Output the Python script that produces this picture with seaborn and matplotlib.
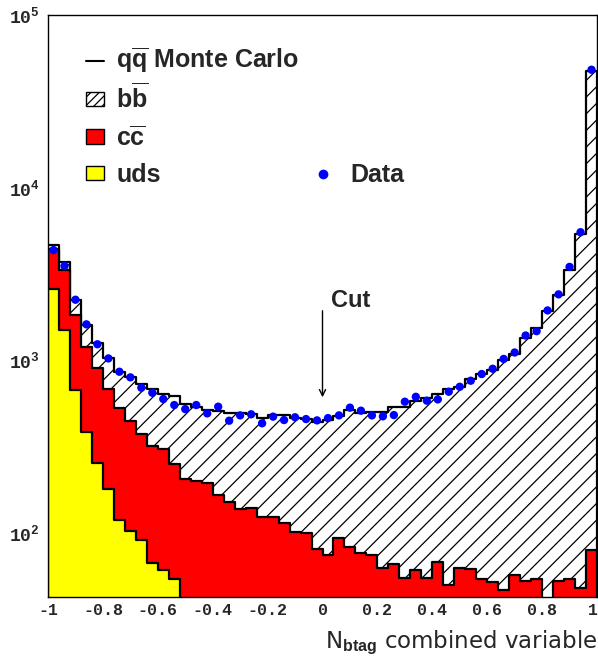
import numpy as np
import pandas as pd
import matplotlib
matplotlib.use("Agg")
import matplotlib.pyplot as plt
import seaborn as sns
from matplotlib.lines import Line2D
from matplotlib.patches import Patch
from matplotlib.ticker import MultipleLocator, LogLocator, NullFormatter
import matplotlib.transforms as mtransforms

# ---------------- data ----------------
x_range = (-1.0, 1.0)
n_bins = 50

uds_counts = [2578, 1497, 673, 386, 254, 179, 119, 103, 91, 67,
              61, 54, 0, 0, 0, 0, 0, 0, 0, 0,
              0, 0, 0, 0, 0, 0, 0, 0, 0, 0,
              0, 0, 0, 0, 0, 0, 0, 0, 0, 0,
              0, 0, 0, 0, 0, 0, 0, 0, 0, 0]

cc_counts = [1822, 1833, 1157, 814, 652, 500, 413, 344, 282, 253,
             244, 197, 205, 201, 194, 166, 152, 137, 139, 123,
             124, 114, 102, 100, 81, 75, 94, 83, 77, 75,
             63, 66, 55, 61, 55, 68, 50, 63, 62, 54,
             52, 47, 57, 53, 54, 38, 53, 54, 48, 80]

bb_counts = [250, 390, 403, 400, 358, 347, 327, 356, 353, 359,
             335, 370, 351, 337, 321, 342, 345, 360, 350, 342,
             361, 368, 359, 355, 360, 376, 382, 432, 416, 429,
             439, 472, 483, 523, 553, 568, 633, 640, 714, 779,
             833, 962, 1037, 1290, 1495, 1881, 2347, 3296, 5347, 47620]

data_counts = [4350, 3516, 2244, 1616, 1239, 1026, 859, 797, 694, 649,
               597, 551, 522, 551, 493, 539, 447, 480, 487, 432,
               472, 451, 468, 457, 449, 463, 480, 532, 511, 480,
               474, 482, 576, 615, 584, 594, 658, 703, 762, 833,
               894, 1019, 1110, 1393, 1476, 1945, 2410, 3477, 5521, 48200]

x_tick_values = [-1, -0.8, -0.6, -0.4, -0.2, 0, 0.2, 0.4, 0.6, 0.8, 1]
x_tick_labels = ['-1', '-0.8', '-0.6', '-0.4', '-0.2', '0', '0.2', '0.4', '0.6', '0.8', '1']
y_tick_values = [1e2, 1e3, 1e4, 1e5]
y_tick_labels = [r'$\mathtt{10^{2}}$', r'$\mathtt{10^{3}}$', r'$\mathtt{10^{4}}$', r'$\mathtt{10^{5}}$']

legend_labels = [r'$\mathrm{q}\overline{\mathrm{q}}$ Monte Carlo',
                 r'$\mathrm{b}\overline{\mathrm{b}}$',
                 r'$\mathrm{c}\overline{\mathrm{c}}$',
                 'uds']
data_label = 'Data'
cut_label = 'Cut'
cut_position = 0.0
x_label = r'N$_{\mathbf{btag}}$ combined variable'

# ---------------- style ----------------
sns.set_style("white")
plt.rcParams['font.family'] = ['Liberation Sans', 'DejaVu Sans']
plt.rcParams['mathtext.fontset'] = 'custom'
plt.rcParams['mathtext.rm'] = 'Liberation Sans:bold'
plt.rcParams['mathtext.bf'] = 'Liberation Sans:bold'
plt.rcParams['mathtext.it'] = 'Liberation Sans:bold:italic'
plt.rcParams['mathtext.tt'] = 'Liberation Mono:bold'
plt.rcParams['hatch.linewidth'] = 0.9

binwidth = (x_range[1] - x_range[0]) / n_bins
centers = x_range[0] + binwidth * (np.arange(n_bins) + 0.5)
uds = np.array(uds_counts, float)
cc = np.array(cc_counts, float)
bb = np.array(bb_counts, float)
df = pd.DataFrame({'x': centers,
                   'uds': uds,
                   'cc_stack': uds + cc,
                   'total': uds + cc + bb,
                   'data': np.array(data_counts, float)})

W, H = 598, 662
fig = plt.figure(figsize=(W / 100, H / 100), dpi=100)
ax = fig.add_axes([48 / W, 1 - 597 / H, (597 - 48) / W, (597 - 15) / H])
ax.set_yscale('log')

common = dict(x='x', binwidth=binwidth, binrange=x_range, element='step', fill=True, alpha=1,
              edgecolor='black', linewidth=1.6, ax=ax)
sns.histplot(data=df, weights='total', facecolor='white', hatch='//', **common)
sns.histplot(data=df, weights='cc_stack', facecolor='#ff0000', **common)
sns.histplot(data=df, weights='uds', facecolor='#ffff00', **common)

sns.scatterplot(data=df, x='x', y='data', color='#0000ff', s=36,
                edgecolor='none', ax=ax, zorder=5, legend=False)

ax.set_xlim(*x_range)
ax.set_ylim(42.6, 1e5)

ax.set_xticks(x_tick_values)
ax.set_xticklabels(x_tick_labels, family='Liberation Mono', weight='bold', fontsize=12)
ax.xaxis.set_minor_locator(MultipleLocator(0.04))
ax.set_yticks(y_tick_values)
ax.set_yticklabels(y_tick_labels, fontsize=13)
ax.yaxis.set_minor_locator(LogLocator(base=10, subs=np.arange(2, 10)))
ax.yaxis.set_minor_formatter(NullFormatter())
ax.tick_params(axis='x', which='major', direction='in', length=7, width=1, top=False, pad=4)
ax.tick_params(axis='y', which='major', direction='in', length=7, width=1, right=False, pad=6)
ax.tick_params(which='minor', direction='in', length=3.6, width=1, top=False, right=False)
for s in ax.spines.values():
    s.set_linewidth(1)
    s.set_color('black')

# keep the last x tick label inside the canvas
last_lbl = ax.get_xticklabels()[-1]
last_lbl.set_transform(last_lbl.get_transform() +
                       mtransforms.ScaledTranslation(-4 / 100, 0, fig.dpi_scale_trans))

ax.set_ylabel('')
ax.set_xlabel(x_label, family=['DejaVu Sans'], fontsize=16.5, loc='right', labelpad=8)

# Cut arrow
ax.annotate('', xy=(cut_position, 589), xytext=(cut_position, 2010),
            arrowprops=dict(arrowstyle='->', color='black', lw=1.0, mutation_scale=11))
ax.text(cut_position + 0.031, 2042, cut_label, fontsize=17, weight='bold',
        va='baseline', ha='left')

# Legends (one entry per row, rows at fixed baselines like the reference)
leg_size = 18
leg_prop = {'weight': 'bold', 'size': leg_size}
descent_px = 0.212 * leg_size * 100 / 72
handles = [Line2D([0], [0], color='black', lw=1.5),
           Patch(facecolor='white', edgecolor='black', hatch='////', lw=1),
           Patch(facecolor='#ff0000', edgecolor='black', lw=1),
           Patch(facecolor='#ffff00', edgecolor='black', lw=1)]
row_baselines_px = [70, 107.7, 145, 181.7]
handle_heights = [0.3, 0.45, 0.5, 0.5]
for hnd, lab, base, hh in zip(handles, legend_labels, row_baselines_px, handle_heights):
    lg = ax.legend([hnd], [lab], loc='lower left',
                   bbox_to_anchor=(86 / W, 1 - (base + descent_px) / H),
                   bbox_transform=fig.transFigure,
                   frameon=False, prop=leg_prop, borderpad=0, borderaxespad=0,
                   handlelength=0.72, handleheight=hh, handletextpad=0.5)
    ax.add_artist(lg)

h2 = [Line2D([0], [0], marker='o', color='none', markerfacecolor='#0000ff',
             markeredgecolor='none', markersize=7)]
ax.legend(h2, [data_label], loc='lower left',
          bbox_to_anchor=(314 / W, 1 - (181.7 + descent_px) / H),
          bbox_transform=fig.transFigure,
          frameon=False, prop=leg_prop, borderpad=0, borderaxespad=0,
          handlelength=0.72, handleheight=0.5, handletextpad=0.75)

fig.savefig('out.png', dpi=100)
